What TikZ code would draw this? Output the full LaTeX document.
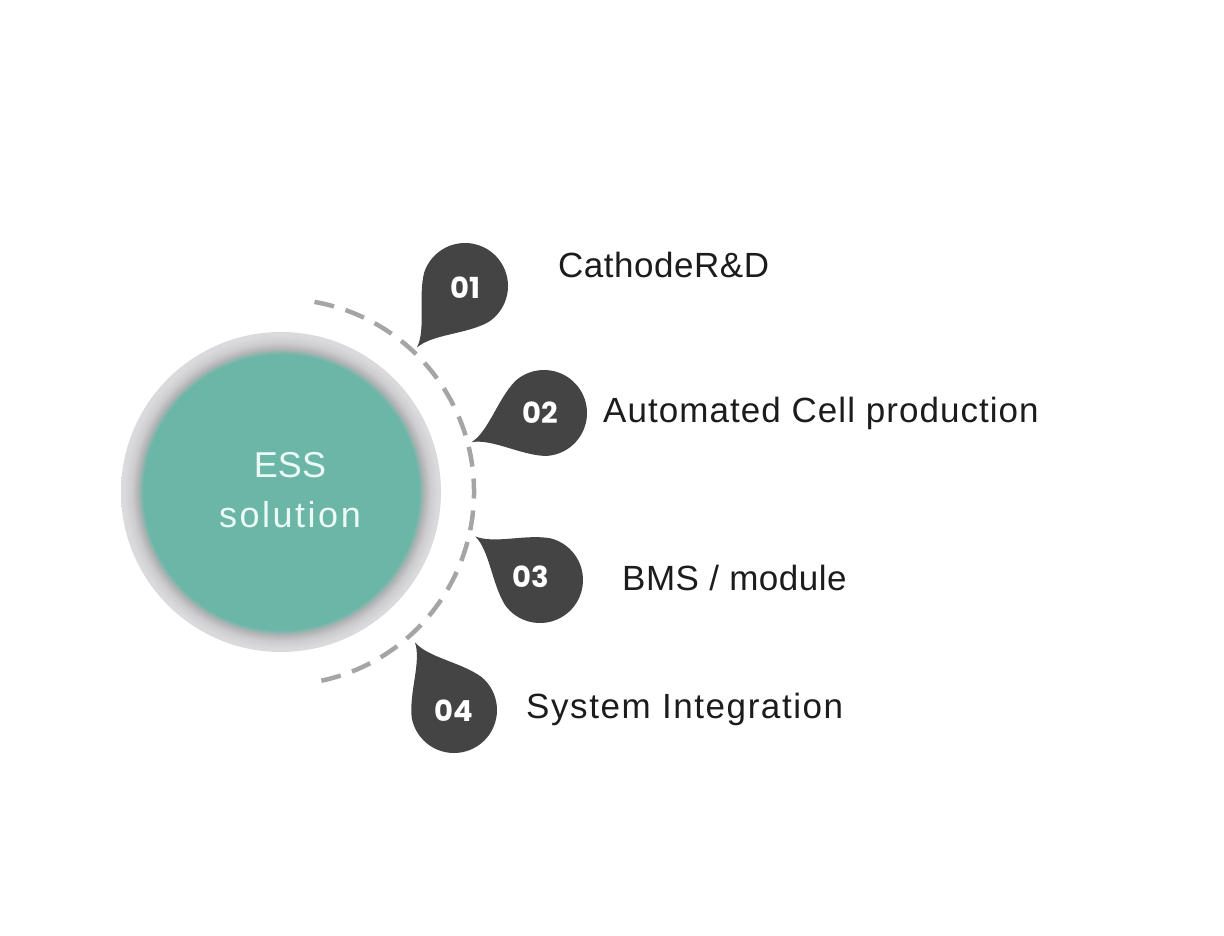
\documentclass[tikz,border=0pt]{standalone}
\usepackage{fontspec}
\setmainfont{Liberation Sans}
\newfontfamily\numfont{Poppins}
\newfontfamily\labelfont[LetterSpace=1.5]{Liberation Sans}
\newfontfamily\labelwide[LetterSpace=3]{Liberation Sans}
\newfontfamily\labelwider[LetterSpace=4.5]{Liberation Sans}
\newfontfamily\esswide[LetterSpace=7]{Liberation Sans}

\definecolor{essteal}{RGB}{107,182,166}
\definecolor{ringdark}{RGB}{180,180,183}
\definecolor{ringgray}{RGB}{204,204,207}
\definecolor{ringlight}{RGB}{218,218,221}
\definecolor{dashgray}{RGB}{165,165,165}
\definecolor{dropgray}{RGB}{68,68,68}
\definecolor{labelblack}{RGB}{28,28,28}
\definecolor{esswhite}{RGB}{236,250,246}

\pgfdeclareradialshading{essring}{\pgfpoint{0bp}{0bp}}{%
  color(0bp)=(essteal); color(21.5bp)=(essteal); color(22.4bp)=(ringdark);
  color(23.3bp)=(ringgray); color(24.5bp)=(ringlight); color(25bp)=(ringlight);
  color(50bp)=(white)}

\tikzstyle{dropnum}=[text=white, inner sep=0pt, font=\numfont\bfseries\fontsize{29}{29}\selectfont]
\tikzstyle{steplabel}=[anchor=base west, inner sep=0pt, text=labelblack, font=\labelfont\fontsize{35}{35}\selectfont]
\tikzstyle{esstext}=[anchor=base, inner sep=0pt, text=esswhite, font=\fontsize{36}{36}\selectfont]
\tikzset{drop/.pic={
  \fill[dropgray] (78,0) .. controls (58,4) and (38,30) .. (14.7,40.4)
    arc[start angle=70, end angle=290, radius=43]
    .. controls (38,-30) and (58,-4) .. (78,0) -- cycle;
}}

\begin{document}
\begin{tikzpicture}[x=1pt, y=-1pt]
\useasboundingbox (0,0) rectangle (1224,936);

% centre disc with grey rim
\coordinate (core) at (281,492);
\shade[shading=essring] (core) circle (160);
\node[esstext] (ess) at (290,477) {ESS};
\node[esstext, font=\esswide\fontsize{36}{36}\selectfont] (solution) at (290,527) {solution};

% dashed arc (angles mirrored because y points down)
\draw[dashgray, line width=4.5pt, dash pattern=on 20pt off 12pt]
  (core) ++(-80:193) arc[start angle=-80, end angle=78, radius=193];

% drops
\pic[rotate=232] at (465,286) {drop};
\pic[rotate=202] at (544,413) {drop};
\pic[rotate=146] at (540,580) {drop};
\pic[rotate=120] at (454,710) {drop};

\node[dropnum] (n01) at (465,288) {01};
\node[dropnum] (n02) at (540,413) {02};
\node[dropnum] (n03) at (531,577) {03};
\node[dropnum] (n04) at (454,711) {04};

% labels
\node[steplabel] (cathode) at (558,278) {CathodeR\&D};
\node[steplabel, font=\labelwide\fontsize{35}{35}\selectfont] (cell) at (603,422) {Automated Cell production};
\node[steplabel] (bms) at (622,590) {BMS / module};
\node[steplabel, font=\labelwider\fontsize{35}{35}\selectfont] (system) at (526,718) {System Integration};
\end{tikzpicture}
\end{document}
